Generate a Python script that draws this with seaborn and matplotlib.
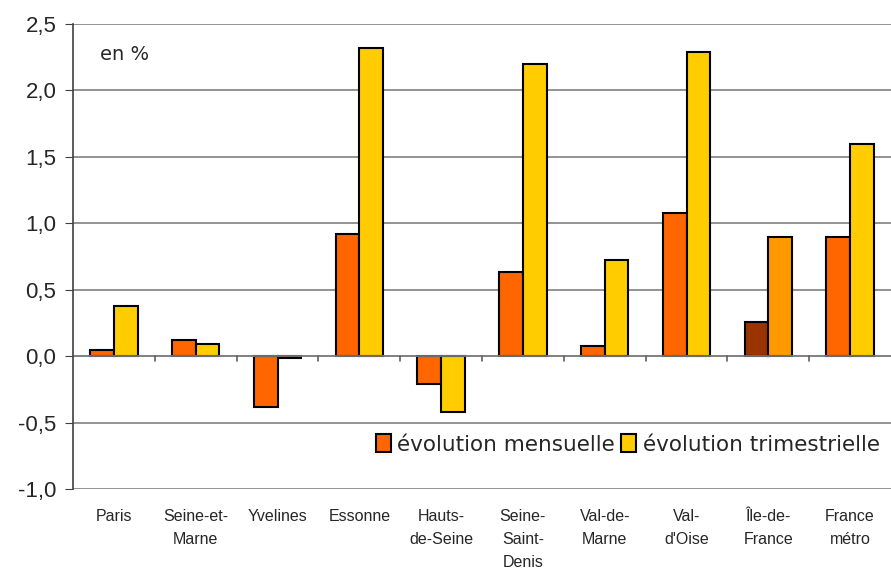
import matplotlib
matplotlib.use('Agg')
import matplotlib.pyplot as plt
import pandas as pd
import seaborn as sns
from matplotlib.patches import Patch

departements = ['Paris', 'Seine-et-\nMarne', 'Yvelines', 'Essonne', 'Hauts-\nde-Seine',
                'Seine-\nSaint-\nDenis', 'Val-de-\nMarne', "Val-\nd'Oise", 'Île-de-\nFrance',
                'France\nmétro']
evol_mensuelle = [0.05, 0.12, -0.38, 0.92, -0.21, 0.63, 0.08, 1.08, 0.26, 0.90]
evol_trimestrielle = [0.38, 0.09, -0.015, 2.32, -0.42, 2.20, 0.72, 2.29, 0.90, 1.60]
series = ['évolution mensuelle', 'évolution trimestrielle']
y_ticks = [-1.0, -0.5, 0.0, 0.5, 1.0, 1.5, 2.0, 2.5]

df = pd.DataFrame({
    'dep': departements * 2,
    'serie': [series[0]] * len(departements) + [series[1]] * len(departements),
    'valeur': evol_mensuelle + evol_trimestrielle,
})

sns.set_style('white')
plt.rcParams['font.family'] = ['Liberation Sans', 'DejaVu Sans']

fig = plt.figure(figsize=(8.91, 5.69), dpi=100)
ax = fig.add_axes([0.082, 0.1406, 0.918, 0.8172])

couleurs = {series[0]: '#FF6600', series[1]: '#FFCC00'}
sns.barplot(data=df, x='dep', y='valeur', hue='serie', palette=couleurs, width=0.58,
            saturation=1, edgecolor='black', linewidth=1.5, ax=ax, legend=False, zorder=3)

# Île-de-France en couleurs différentes
idf = departements.index('Île-de-\nFrance')
ax.containers[0][idf].set_facecolor('#993300')
ax.containers[1][idf].set_facecolor('#FF9900')

ax.set_xlim(-0.5, len(departements) - 0.5)
ax.set_ylim(-1.0, 2.5)
ax.set_yticks(y_ticks)
ax.set_yticklabels([f'{v:.1f}'.replace('.', ',') for v in y_ticks], fontsize=16)
ax.yaxis.grid(True, color='#808080', linewidth=1.2, zorder=0)
ax.tick_params(axis='y', left=True, length=6, color='#404040', pad=6)
ax.tick_params(axis='x', bottom=False, pad=11)
ax.set_xticks(range(len(departements)))
ax.set_xticklabels(departements, fontsize=11.5, linespacing=1.65, va='top')
ax.set_xlabel('')
ax.set_ylabel('')

for s in ['top', 'right', 'bottom']:
    ax.spines[s].set_visible(False)
ax.spines['left'].set_color('#404040')
ax.spines['left'].set_linewidth(1.2)
ax.spines['left'].set_zorder(4)

# axe des catégories sur zéro
ax.axhline(0, color='#808080', linewidth=1.2, zorder=4)
for b in range(1, len(departements)):
    ax.plot([b - 0.5, b - 0.5], [0, -0.035], color='#606060', linewidth=1.2, zorder=4,
            clip_on=False)

ax.text(0.033, 0.935, 'en %', transform=ax.transAxes, fontsize=14,
        family='DejaVu Sans', va='center')

handles = [Patch(facecolor=couleurs[s], edgecolor='black', linewidth=1.5) for s in series]
ax.legend(handles, series, loc='lower right', bbox_to_anchor=(1.01, 0.032), ncol=2,
          frameon=False, handlelength=0.7, handleheight=0.9, handletextpad=0.3,
          columnspacing=0.3, prop={'family': 'DejaVu Sans', 'size': 15.5})

fig.savefig('out.png', dpi=100)
